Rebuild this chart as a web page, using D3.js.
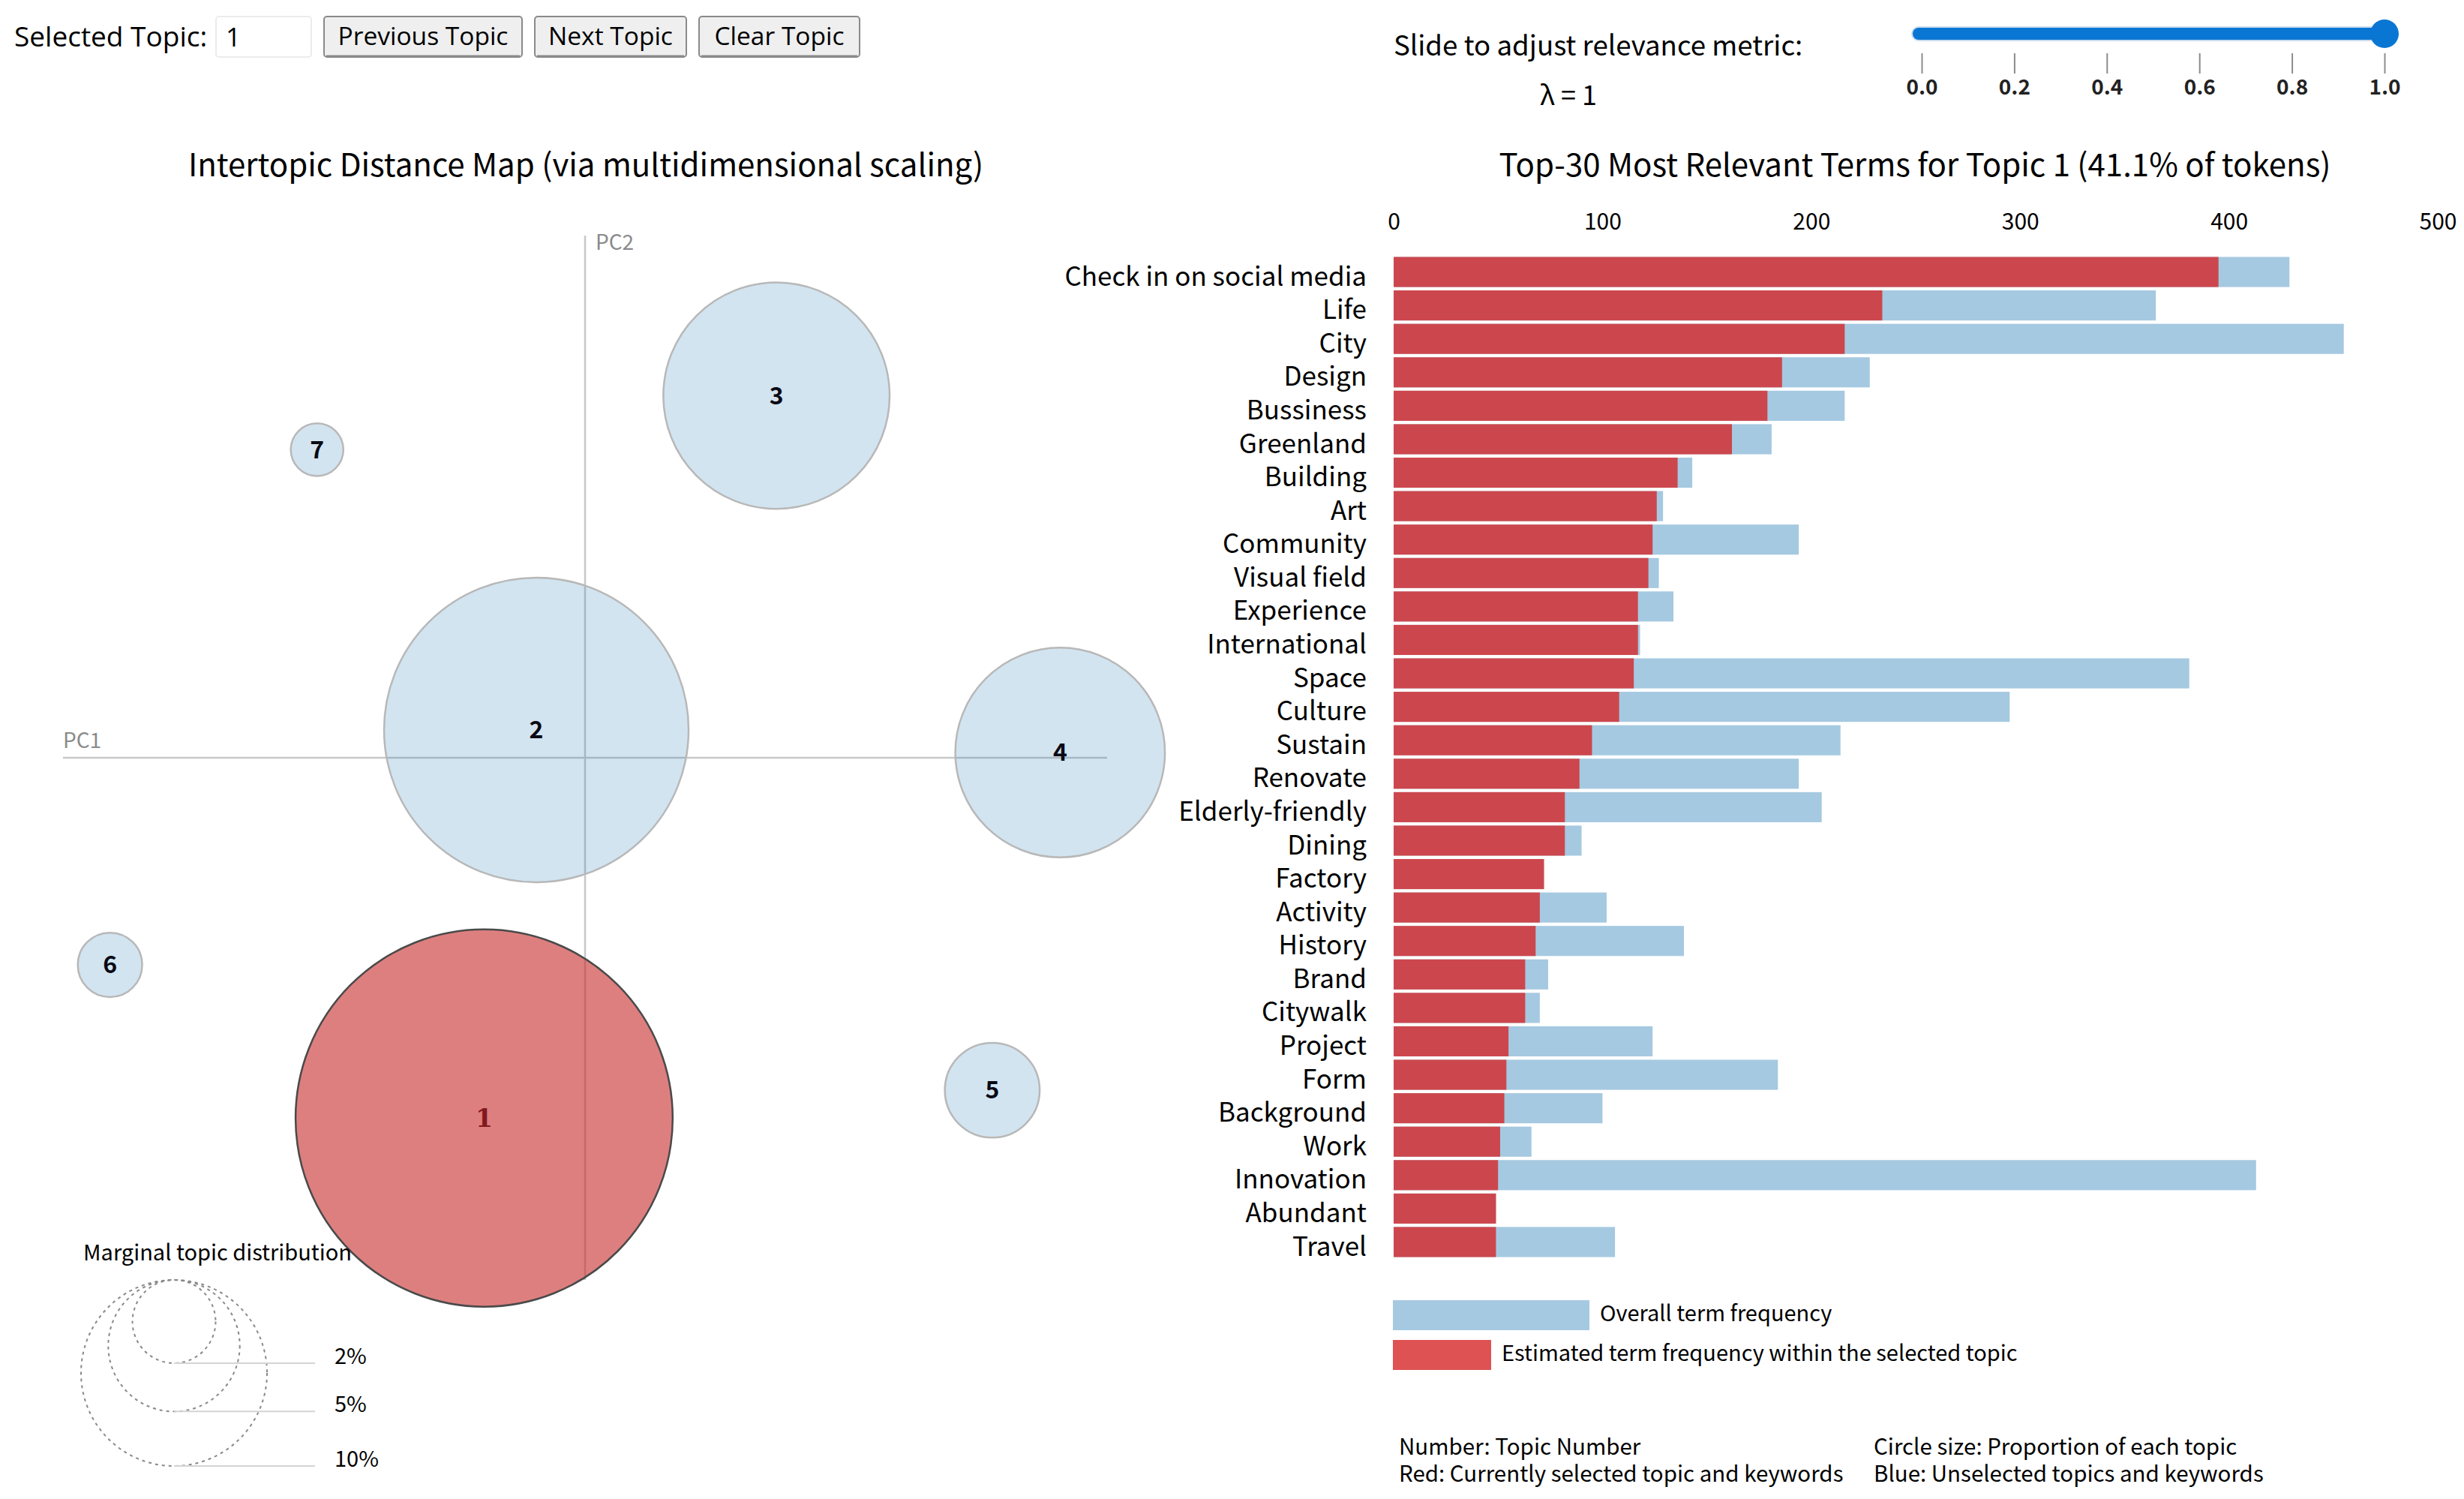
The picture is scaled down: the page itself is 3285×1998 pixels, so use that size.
<!DOCTYPE html>
<html>
<head>
<meta charset="utf-8">
<script src="https://cdn.jsdelivr.net/npm/d3@7"></script>
<style>
  html, body { margin: 0; padding: 0; background: #ffffff; }
  svg { display: block; }
</style>
</head>
<body>
<script>
// ---------------- DATA ----------------
const terms = ["Check in on social media","Life","City","Design","Bussiness","Greenland","Building","Art",
  "Community","Visual field","Experience","International","Space","Culture","Sustain","Renovate",
  "Elderly-friendly","Dining","Factory","Activity","History","Brand","Citywalk","Project","Form",
  "Background","Work","Innovation","Abundant","Travel"];
const topicTermFreq = [395,234,216,186,179,162,136,126,124,122,117,117,115,108,95,89,
  82,82,72,70,68,63,63,55,54,53,51,50,49,49];
const overallTermFreq = [429,365,455,228,216,181,143,129,194,127,134,118,381,295,214,194,
  205,90,72,102,139,74,70,124,184,100,66,413,49,106];
const barTicks = [0,100,200,300,400,500];

const topicIds = [1,2,3,4,5,6,7];
const topicPC1 = [-0.058,-0.028,0.110,0.273,0.234,-0.273,-0.154];
const topicPC2 = [-0.207,0.016,0.208,0.003,-0.191,-0.119,0.177];
const topicPct = [41.1,26.8,14.8,12.7,2.6,1.2,0.8];
const selectedTopic = 1;

const legendPcts = [2,5,10];
const lambdaTicks = [0,0.2,0.4,0.6,0.8,1.0];
const lambdaValue = 1;

// ---------------- SETUP ----------------
const W = 3285, H = 1998;
const SANS = "'Noto Sans CJK SC','Noto Sans',sans-serif";
const UI = "'Open Sans','Noto Sans',sans-serif";
const svg = d3.select("body").append("svg").attr("width", W).attr("height", H)
  .style("font-family", SANS);

// ---------------- TOP CONTROLS ----------------
svg.append("text").attr("x", 19).attr("y", 62).style("font-family", UI).style("font-size", "37px")
  .attr("fill", "#000").text("Selected Topic:");
svg.append("rect").attr("x", 288).attr("y", 22).attr("width", 127).attr("height", 54)
  .attr("fill", "#fff").attr("stroke", "#ececec").attr("stroke-width", 2).attr("rx", 4);
svg.append("text").attr("x", 301).attr("y", 62).style("font-family", UI).style("font-size", "35px")
  .text(String(selectedTopic));
const buttons = [["Previous Topic", 432, 696], ["Next Topic", 713, 915], ["Clear Topic", 932, 1146]];
buttons.forEach(([label, x0, x1]) => {
  svg.append("rect").attr("x", x0).attr("y", 22).attr("width", x1 - x0).attr("height", 54)
    .attr("rx", 4).attr("fill", "#efefef").attr("stroke", "#8a8a8a").attr("stroke-width", 2);
  svg.append("line").attr("x1", x0 + 3).attr("x2", x1 - 3).attr("y1", 75).attr("y2", 75)
    .attr("stroke", "#8a8a8a").attr("stroke-width", 3);
  svg.append("text").attr("x", (x0 + x1) / 2).attr("y", 60).attr("text-anchor", "middle")
    .style("font-family", UI).style("font-size", "33.5px").attr("fill", "#000").text(label);
});

// ---------------- LAMBDA SLIDER ----------------
svg.append("text").attr("x", 1858).attr("y", 74).style("font-size", "36.7px").attr("fill", "#000")
  .text("Slide to adjust relevance metric:");
svg.append("text").attr("x", 2091).attr("y", 140).attr("text-anchor", "middle").style("font-size", "36px")
  .attr("fill", "#000").text("λ = " + lambdaValue);

const lamX = d3.scaleLinear().domain([0, 1]).range([2562, 3179]);
svg.append("rect").attr("x", 2548).attr("y", 35).attr("width", lamX(lambdaValue) - 2548 + 10).attr("height", 20)
  .attr("rx", 10).attr("fill", "#c9dcef");
svg.append("rect").attr("x", 2550).attr("y", 37).attr("width", lamX(lambdaValue) - 2550 + 8).attr("height", 16)
  .attr("rx", 8).attr("fill", "#0a76d3");
svg.append("circle").attr("cx", lamX(lambdaValue)).attr("cy", 45).attr("r", 19).attr("fill", "#0a76d3");

const lamAxis = svg.append("g").attr("transform", "translate(0,71)")
  .call(d3.axisBottom(lamX).tickValues(lambdaTicks).tickFormat(d3.format(".1f")).tickSize(27).tickPadding(8));
lamAxis.select(".domain").remove();
lamAxis.selectAll(".tick line").attr("stroke", "#8c8c8c").attr("stroke-width", 2);
lamAxis.selectAll(".tick text").style("font-family", SANS).style("font-size", "28px")
  .style("font-weight", "bold").attr("fill", "#222");

// ---------------- LEFT: INTERTOPIC DISTANCE MAP ----------------
svg.append("text").attr("x", 781).attr("y", 235).attr("text-anchor", "middle").style("font-size", "42px")
  .attr("fill", "#000").text("Intertopic Distance Map (via multidimensional scaling)");

const mdsX = d3.scaleLinear().domain([-0.3, 0.3]).range([84, 1476]);
const mdsY = d3.scaleLinear().domain([-0.3, 0.3]).range([1706, 314]);
const rScale = d3.scaleSqrt().domain([0, 10]).range([0, 124]);

svg.append("line").attr("x1", mdsX(-0.3)).attr("x2", mdsX(0.3)).attr("y1", mdsY(0)).attr("y2", mdsY(0))
  .attr("stroke", "#c8c8c8").attr("stroke-width", 2.5);
svg.append("line").attr("x1", mdsX(0)).attr("x2", mdsX(0)).attr("y1", mdsY(0.3)).attr("y2", mdsY(-0.3))
  .attr("stroke", "#c8c8c8").attr("stroke-width", 2.5);
svg.append("text").attr("x", mdsX(-0.3)).attr("y", mdsY(0) - 13).style("font-size", "28px")
  .attr("fill", "#8a8a8a").text("PC1");
svg.append("text").attr("x", mdsX(0) + 14).attr("y", mdsY(0.3) + 19).style("font-size", "28px")
  .attr("fill", "#8a8a8a").text("PC2");

const topics = topicIds.map((id, i) => ({ id, x: topicPC1[i], y: topicPC2[i], p: topicPct[i] }));
svg.append("g").selectAll("circle").data(topics).join("circle")
  .attr("cx", d => mdsX(d.x)).attr("cy", d => mdsY(d.y)).attr("r", d => rScale(d.p))
  .attr("fill", d => d.id === selectedTopic ? "#c82a2a" : "#1f77b4")
  .attr("fill-opacity", d => d.id === selectedTopic ? 0.6 : 0.2)
  .attr("stroke", d => d.id === selectedTopic ? "#4a4a4a" : "#b8b8b8")
  .attr("stroke-width", 2.5);
svg.append("g").selectAll("text").data(topics).join("text")
  .attr("x", d => mdsX(d.x)).attr("y", d => mdsY(d.y)).attr("dy", "0.35em").attr("text-anchor", "middle")
  .style("font-size", d => d.id === selectedTopic ? "33px" : "32px").style("font-weight", "bold")
  .style("font-family", d => d.id === selectedTopic ? "'DejaVu Serif',serif" : SANS)
  .attr("fill", d => d.id === selectedTopic ? "#82191e" : "#0a0a14")
  .text(d => d.id);

// marginal topic distribution legend
svg.append("text").attr("x", 111).attr("y", 1680).style("font-size", "29px").attr("fill", "#000")
  .text("Marginal topic distribution");
const legTop = 1706, legCx = 232;
const leg = svg.append("g");
leg.selectAll("circle").data(legendPcts).join("circle")
  .attr("cx", legCx).attr("cy", d => legTop + rScale(d)).attr("r", d => rScale(d))
  .attr("fill", "none").attr("stroke", "#8a8a8a").attr("stroke-width", 2).attr("stroke-dasharray", "4,5");
leg.selectAll("line").data(legendPcts).join("line")
  .attr("x1", legCx).attr("x2", 420).attr("y1", d => legTop + 2 * rScale(d)).attr("y2", d => legTop + 2 * rScale(d))
  .attr("stroke", "#d4d4d4").attr("stroke-width", 2);
leg.selectAll("text").data(legendPcts).join("text")
  .attr("x", 446).attr("y", d => legTop + 2 * rScale(d) + 1).style("font-size", "29px").attr("fill", "#000")
  .text(d => d + "%");

// ---------------- RIGHT: BAR CHART ----------------
svg.append("text").attr("x", 2553).attr("y", 235).attr("text-anchor", "middle").style("font-size", "42px")
  .attr("fill", "#000").text("Top-30 Most Relevant Terms for Topic " + selectedTopic + " (" + topicPct[0] + "% of tokens)");

const bx = d3.scaleLinear().domain([0, 500]).range([1858, 3250]);
const by = d3.scaleBand().domain(terms).range([338, 1680]).padding(0.1);

const barAxis = svg.append("g").attr("transform", "translate(0,306)")
  .call(d3.axisTop(bx).tickValues(barTicks).tickSize(0).tickPadding(0));
barAxis.select(".domain").remove();
barAxis.selectAll(".tick text").style("font-family", SANS).style("font-size", "30px").attr("fill", "#000");

const rows = terms.map((t, i) => ({ t, red: topicTermFreq[i], blue: overallTermFreq[i] }));
svg.append("g").selectAll("rect").data(rows).join("rect")
  .attr("x", bx(0)).attr("y", d => by(d.t)).attr("width", d => bx(d.blue) - bx(0)).attr("height", by.bandwidth())
  .attr("fill", "#1f77b4").attr("opacity", 0.4);
svg.append("g").selectAll("rect").data(rows).join("rect")
  .attr("x", bx(0)).attr("y", d => by(d.t)).attr("width", d => bx(d.red) - bx(0)).attr("height", by.bandwidth())
  .attr("fill", "#d62728").attr("opacity", 0.8);
// term labels: one text block, one line (tspan) per term
svg.append("text").attr("text-anchor", "end").style("font-size", "35px").attr("fill", "#000")
  .selectAll("tspan").data(rows).join("tspan")
  .attr("x", 1822).attr("y", d => by(d.t) + by.bandwidth() - 2).text(d => d.t);

// bar legend
svg.append("rect").attr("x", 1857).attr("y", 1733).attr("width", 262).attr("height", 40)
  .attr("fill", "#1f77b4").attr("opacity", 0.4);
svg.append("text").attr("x", 2133).attr("y", 1761).style("font-size", "29px").attr("fill", "#000")
  .text("Overall term frequency");
svg.append("rect").attr("x", 1857).attr("y", 1786).attr("width", 131).attr("height", 40)
  .attr("fill", "#d62728").attr("opacity", 0.8);
svg.append("text").attr("x", 2002).attr("y", 1814).style("font-size", "29px").attr("fill", "#000")
  .text("Estimated term frequency within the selected topic");

// notes (two columns, two lines each)
const noteCols = [
  { x: 1865, lines: ["Number: Topic Number", "Red: Currently selected topic and keywords"] },
  { x: 2498, lines: ["Circle size: Proportion of each topic", "Blue: Unselected topics and keywords"] }
];
noteCols.forEach(col => {
  svg.append("text").style("font-size", "29.5px").attr("fill", "#000")
    .selectAll("tspan").data(col.lines).join("tspan")
    .attr("x", col.x).attr("y", (d, i) => 1939 + i * 36).text(d => d);
});
</script>
</body>
</html>
